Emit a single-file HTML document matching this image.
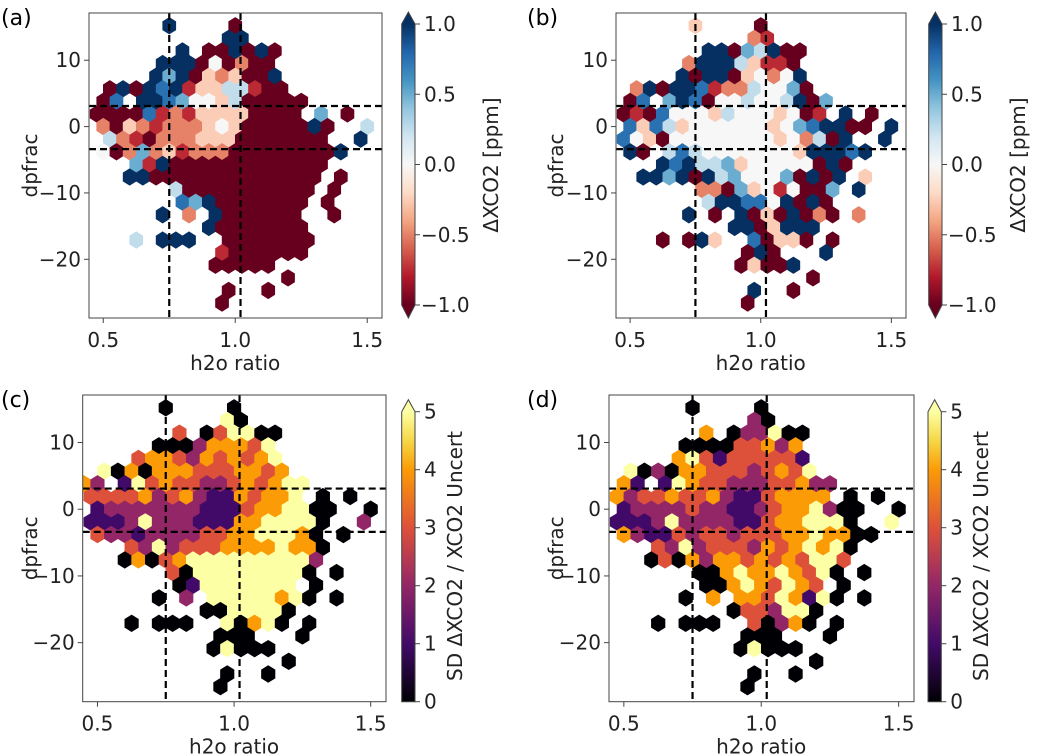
<!DOCTYPE html>
<html><head><meta charset="utf-8">
<style>
html,body{margin:0;padding:0;background:#fff;}
svg{display:block;font-family:"DejaVu Sans","Liberation Sans",sans-serif;}
</style></head>
<body>
<svg id="fig" width="1038" height="756" viewBox="0 0 1038 756" xmlns="http://www.w3.org/2000/svg">
<defs id="defs"></defs>
<text x="1" y="25" font-size="22">(a)</text>
<text x="527" y="25" font-size="22">(b)</text>
<text x="1" y="407" font-size="22">(c)</text>
<text x="527" y="407" font-size="22">(d)</text>
</svg>
<script>
const xTicks=[0.5,1.0,1.5];
const xTickLabels=['0.5','1.0','1.5'];
const yTicks=[10,0,-10,-20];
const yTickLabels=['10','0','\u221210','\u221220'];
const vLines=[0.75,1.02];
const hLines=[3.1,-3.4];
const divTicks=[1,0.5,0,-0.5,-1];
const divTickLabels=['1.0','0.5','0.0','\u22120.5','\u22121.0'];
const seqTicks=[0,1,2,3,4,5];
const seqTickLabels=['0','1','2','3','4','5'];
const hexRowsA=[
"......8....0..........","..........88..........",".......8.008080.......",".....888040200........",
".....8680323008.......",".08087813355100.......",".07.8876443500000.....","0000712133330000.6.0..",
".203212223430000080..5",".52102223330000000..8.",".4026231222000000008..","...618000000000000....",
"...880000000000000.0..","......50000000000.0...",".......7680000000.0...",".....8.2.8000000..0...",
".........80000000.....","...5.888..0000000.....","..........1000000.....",".........00000........",
"...............0......","..........0..0........","..........0..........."];
const hexRowsB=[
"......3....0..........","..........21..........",".......88065800.......",".....288853110........",
".....8088034248.......",".28088712254460.......",".07.6870445445806.....","0107444354443401.8.0..",
".7375344444434678800.8","743044444444342508..8.",".80.5754444444388878..","...878556344444080....",
"..8868085644460808.3..","......22063414006.8...",".......5887748080.....",".....8.0.80308020.2...",
".........8803888......","...0.083..70330.0.....","..........080...8.....",".........03008........",
"...............0......","..........8..0........","..........0..........."];
const hexRowsC=[
"......0....0..........","..........50..........",".......3.035500.......",".....000244435........",
"....34432434345.......",".50404443334434.......","42.15343322343455.....","3333423421143445.0.0..",
".122222221113445500..0","111252221114455550..2.",".32212222334455540.0..","...325233344445440....",
"...040345555555552....","......30555555550.0...",".......015555555.0....",".....0.2.55555450.0...",
".........0055550......","...0.000..50450.0.....","..........000...0.....",".........05000........",
"...............0......","..........0..0........","..........0..........."];
const hexRowsD=[
"......0....0..........","..........20..........",".......4.022500.......",".....000033424........",
".....4531333331.......",".50204433323435.......",".41.1543322233422.....","4233433421134444.0.0..",
".122223221123445200..0","111252222113445550..5.",".4211323323334454400..","...325233324345450....",
"...030424434343553....","......00454454350.0...",".......004543543.0....",".....0.4.44354150.0...",
".........0332550......","...0.000..30240.0.....","..........000...0.....",".........05000........",
"...............0......","..........0..0........","..........0..........."];

const NS='http://www.w3.org/2000/svg';
const svg=document.getElementById('fig');
const defs=document.getElementById('defs');
const XLIM=[0.446,1.556], YLIM=[-28.85,17.12];
const HEX_X0=0.45, HEX_DX=0.05, HEX_Y0=15.2, HEX_DY=1.9;
const FS=20;

function el(tag,attrs,parent){const e=document.createElementNS(NS,tag);for(const k in attrs)e.setAttribute(k,attrs[k]);(parent||svg).appendChild(e);return e;}
function hex2rgb(h){return [1,3,5].map(i=>parseInt(h.substr(i,2),16));}
function interp(stopsV,stopsC,v){
  if(v<=stopsV[0])return stopsC[0];
  for(let i=1;i<stopsV.length;i++){if(v<=stopsV[i]){const t=(v-stopsV[i-1])/(stopsV[i]-stopsV[i-1]);const a=hex2rgb(stopsC[i-1]),b=hex2rgb(stopsC[i]);return 'rgb('+a.map((x,j)=>Math.round(x+(b[j]-x)*t)).join(',')+')';}}
  return stopsC[stopsC.length-1];
}
const rdbuC=['#67001f','#b2182b','#d6604d','#f4a582','#fddbc7','#f7f7f7','#d1e5f0','#92c5de','#4393c3','#2166ac','#053061'];
const rdbuV=rdbuC.map((c,i)=>-1+0.2*i);
const seqC=['#000004','#420a68','#932667','#dd513a','#fb9b06','#f6d746','#fcffa4'];
const seqV=[0,1,2,3,4,4.5,5];
function divColor(v){return interp(rdbuV,rdbuC,v);}
function seqColor(v){return interp(seqV,seqC,v);}

const panels=[
 {id:'a',rows:hexRowsA,kind:'div',L:89,R:382,T:13,B:318,cbx:401.7,cbT:24,cbB:305,cbLabelX:498,ylabX:37},
 {id:'b',rows:hexRowsB,kind:'div',L:616,R:906,T:13,B:318,cbx:928.7,cbT:24,cbB:305,cbLabelX:1025,ylabX:563},
 {id:'c',rows:hexRowsC,kind:'seq',L:82.7,R:386,T:395,B:701.7,cbx:401.7,cbT:411.7,cbB:701.7,cbLabelX:462,ylabX:37},
 {id:'d',rows:hexRowsD,kind:'seq',L:609,R:914,T:395,B:701.7,cbx:928,cbT:411.7,cbB:701.7,cbLabelX:988,ylabX:563}
];

panels.forEach(p=>{
  const sx=v=>p.L+(v-XLIM[0])/(XLIM[1]-XLIM[0])*(p.R-p.L);
  const sy=v=>p.T+(YLIM[1]-v)/(YLIM[1]-YLIM[0])*(p.B-p.T);
  const g=el('g',{});
  
  
  const cp=el('clipPath',{id:'clip-'+p.id},defs);
  el('rect',{x:p.L,y:p.T,width:p.R-p.L,height:p.B-p.T},cp);
  const hg=el('g',{'clip-path':'url(#clip-'+p.id+')'},g);
  
  
  const w=Math.abs(sx(HEX_DX)-sx(0))+0.5;
  const h=Math.abs(sy(0)-sy(HEX_DY))*4/3+0.5;
  const colorFn=p.kind==='div'?(c=>divColor((c-4)/4)):(c=>seqColor(c));
  p.rows.forEach((row,r)=>{
    for(let i=0;i<row.length;i++){
      const ch=row[i]; if(ch==='.'||ch===' ')continue;
      const code=parseInt(ch,10);
      const cx=sx(HEX_X0+HEX_DX*i+(r%2?HEX_DX/2:0)), cy=sy(HEX_Y0-HEX_DY*r);
      const pts=[[0,-h/2],[w/2,-h/4],[w/2,h/4],[0,h/2],[-w/2,h/4],[-w/2,-h/4]].map(q=>(cx+q[0]).toFixed(2)+','+(cy+q[1]).toFixed(2)).join(' ');
      const hx=el('polygon',{points:pts,fill:colorFn(code)},hg);
      
      
    }
  });
  vLines.forEach(v=>{
    const ln=el('line',{x1:sx(v),x2:sx(v),y1:p.T,y2:p.B,stroke:'#000','stroke-width':2.2,'stroke-dasharray':'7,4'},g);
    
    
  });
  hLines.forEach(v=>{
    const ln=el('line',{x1:p.L,x2:p.R,y1:sy(v),y2:sy(v),stroke:'#000','stroke-width':2.2,'stroke-dasharray':'7,4'},g);
    
    
  });
  const frame=el('rect',{x:p.L,y:p.T,width:p.R-p.L,height:p.B-p.T,fill:'none',stroke:'#444','stroke-width':1},g);
  
  
  xTicks.forEach((v,k)=>{
    const tk=el('line',{x1:sx(v),x2:sx(v),y1:p.B,y2:p.B+5,stroke:'#444','stroke-width':1},g);
    
    
    const t=el('text',{x:sx(v),y:p.B+29,'font-size':FS,'text-anchor':'middle',fill:'#222'},g);
    t.textContent=xTickLabels[k];
    
    
  });
  yTicks.forEach((v,k)=>{
    const tk=el('line',{x1:p.L-5,x2:p.L,y1:sy(v),y2:sy(v),stroke:'#444','stroke-width':1},g);
    
    
    const t=el('text',{x:p.L-8,y:sy(v)+7,'font-size':FS,'text-anchor':'end',fill:'#222'},g);
    t.textContent=yTickLabels[k];
    
    
  });
  const xl=el('text',{x:(sx(0.5)+sx(1.5))/2,y:p.B+52,'font-size':FS,'text-anchor':'middle',fill:'#222'},g);
  xl.textContent='h2o ratio';
  
  
  const ym=(p.T+p.B)/2;
  const yl=el('text',{x:p.ylabX,y:ym,'font-size':FS,'text-anchor':'middle',fill:'#222',transform:'rotate(-90 '+p.ylabX+' '+ym+')'},g);
  yl.textContent='dpfrac';
  
  

  const cw=13.3, cx0=p.cbx, cx1=p.cbx+cw;
  const gid='grad-'+p.id;
  const lg=el('linearGradient',{id:gid,x1:0,y1:1,x2:0,y2:0},defs);
  const lo=p.kind==='div'?-1:0, hi=p.kind==='div'?1:5;
  for(let s=0;s<=40;s++){const v=lo+(hi-lo)*s/40;el('stop',{offset:(s/40),'stop-color':p.kind==='div'?divColor(v):seqColor(v)},lg);}
  const cb=el('g',{},g);
  
  
  el('rect',{x:cx0,y:p.cbT,width:cw,height:p.cbB-p.cbT,fill:'url(#'+gid+')'},cb);
  const tipTop=p.cbT-12;
  el('polygon',{points:cx0+','+p.cbT+' '+(cx0+cw/2)+','+tipTop+' '+cx1+','+p.cbT,fill:p.kind==='div'?divColor(1):seqColor(5)},cb);
  let outline=cx0+','+p.cbB+' '+cx0+','+p.cbT+' '+(cx0+cw/2)+','+tipTop+' '+cx1+','+p.cbT+' '+cx1+','+p.cbB;
  if(p.kind==='div'){
    el('polygon',{points:cx0+','+p.cbB+' '+(cx0+cw/2)+','+(p.cbB+13)+' '+cx1+','+p.cbB,fill:divColor(-1)},cb);
    outline+=' '+(cx0+cw/2)+','+(p.cbB+13);
  }
  el('polygon',{points:outline,fill:'none',stroke:'#444','stroke-width':1},cb);
  const ticks=p.kind==='div'?divTicks:seqTicks, labs=p.kind==='div'?divTickLabels:seqTickLabels;
  const cy=v=>p.cbB-(v-lo)/(hi-lo)*(p.cbB-p.cbT);
  ticks.forEach((v,k)=>{
    const tk=el('line',{x1:cx1,x2:cx1+5,y1:cy(v),y2:cy(v),stroke:'#444','stroke-width':1},cb);
    
    
    const t=el('text',{x:cx1+(p.kind==='div'&&v<0?6:9),y:cy(v)+7,'font-size':FS,fill:'#222'},cb);
    t.textContent=labs[k];
    
    
  });
  const cm=p.kind==='div'?165:556;
  const cl=el('text',{x:p.cbLabelX,y:cm,'font-size':FS,'text-anchor':'middle',fill:'#222',transform:'rotate(-90 '+p.cbLabelX+' '+cm+')'},cb);
  cl.textContent=p.kind==='div'?'\u0394XCO2 [ppm]':'SD \u0394XCO2 / XCO2 Uncert';
  
  
});
</script>
</body></html>
